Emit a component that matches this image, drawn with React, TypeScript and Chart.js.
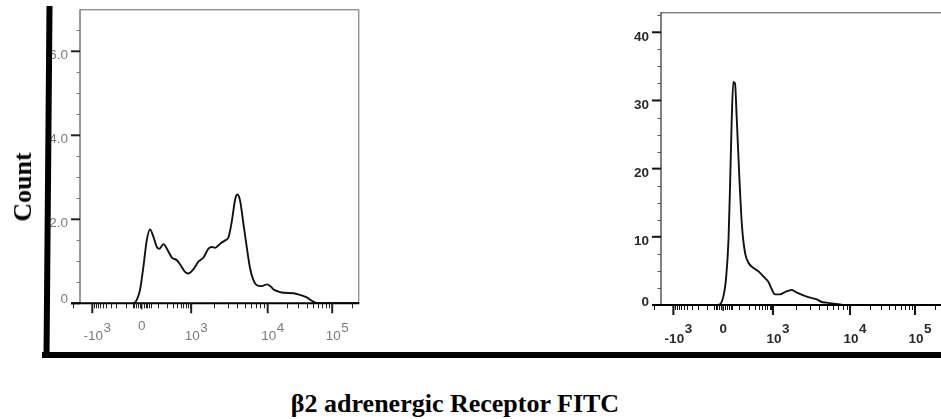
import React, { useEffect, useRef } from "react";
import { Chart, registerables } from "chart.js";

Chart.register(...registerables);

// ---------------- data (x in display channel units 0..1000, y = count) ----------------
const leftChannel = [190, 197, 203, 215, 227, 239, 251, 263, 275, 284, 299, 311, 329, 346, 358, 376, 388, 406, 424, 442, 460, 472, 484, 502, 520, 532, 544, 556, 564, 573, 585, 597, 609, 621, 633, 651, 669, 681, 693, 711, 729, 765, 788, 812, 830, 848, 1000];
const leftCount = [0, 0.02, 0.08, 0.32, 0.87, 1.5, 1.76, 1.58, 1.34, 1.3, 1.41, 1.3, 1.09, 1.03, 0.93, 0.75, 0.71, 0.81, 0.99, 1.09, 1.3, 1.34, 1.32, 1.42, 1.5, 1.58, 1.97, 2.49, 2.59, 2.45, 1.9, 1.34, 0.83, 0.55, 0.43, 0.41, 0.45, 0.41, 0.33, 0.28, 0.25, 0.24, 0.2, 0.14, 0.06, 0, 0];

const rightChannel = [200, 210, 222, 231, 240, 246, 251, 257, 263, 269, 279, 288, 299, 311, 328, 346, 364, 382, 394, 405, 423, 441, 465, 483, 506, 530, 554, 571, 589, 613, 636, 648, 1000];
const rightCount = [0, 0.1, 1.3, 3.75, 9.6, 18.3, 26.6, 32.7, 32.5, 27.6, 18.3, 11.5, 7.6, 6.2, 5.45, 4.96, 4.2, 3.36, 2.3, 1.56, 1.56, 1.9, 2.2, 1.8, 1.4, 1.07, 0.83, 0.44, 0.34, 0.19, 0.1, 0, 0];

// x axis ticks (fluorescence values)
const xTickValues = [-1000, 0, 1000, 10000, 100000];
const xTickBases = ["-10", "0", "10", "10", "10"];
const xTickExponents = ["3", "", "3", "4", "5"];
const xMinorValues = [
  -2000, -900, -800, -700, -600, -500, -400, -300, -200, -100,
  -50, -40, -30, -20, -10, 10, 20, 30, 40, 50,
  100, 200, 300, 400, 500, 600, 700, 800, 900,
  2000, 3000, 4000, 5000, 6000, 7000, 8000, 9000,
  20000, 30000, 40000, 50000, 60000, 70000, 80000, 90000, 200000,
];

// y axis ticks
const leftYMajor = [0, 2, 4, 6];
const leftYLabels = ["0", "2.0", "4.0", "6.0"];
const leftYMinor = [0.5, 1, 1.5, 2.5, 3, 3.5, 4.5, 5, 5.5, 6.5];
const rightYMajor = [0, 10, 20, 30, 40];
const rightYLabels = ["0", "10", "20", "30", "40"];
const rightYMinor = [2.5, 5, 7.5, 12.5, 15, 17.5, 22.5, 25, 27.5, 32.5, 35, 37.5, 42.5];

const yAxisTitle = "Count";
const xAxisTitle = "β2 adrenergic Receptor FITC";

// biexponential-like display transform: value -> channel
function toChannel(v: number): number {
  const a = Math.abs(v);
  if (a <= 1000) return 221 + Math.sign(v) * 177 * Math.asinh(a / 80) / Math.asinh(1000 / 80);
  if (v > 0) return v <= 10000 ? 398 + 274 * Math.log10(v / 1000) : 672 + 231 * Math.log10(v / 10000);
  return 44 - 231 * Math.log10(a / 1000);
}

type PanelProps = {
  cLeft: number; cTop: number; cWidth: number; cHeight: number;
  pad: { left: number; top: number; right: number; bottom: number };
  channels: number[]; counts: number[];
  yMax: number; yMajor: number[]; yLabels: string[]; yMinor: number[];
  bold: boolean; labelColor: string; majorColor: string; minorColor: string; frameColor: string;
  yLabOff: number; yZeroOff: number;
  xBaseOff: number; xExpOff: number; xZeroOff: number;
};

function Panel(p: PanelProps) {
  const ref = useRef<HTMLCanvasElement | null>(null);
  useEffect(() => {
    if (!ref.current) return;
    const axesPlugin = {
      id: "flowAxes",
      afterDraw(chart: any) {
        const { ctx, chartArea: ca } = chart;
        const xs = chart.scales.x;
        const ys = chart.scales.y;
        ctx.save();
        // frame (top, right)
        ctx.strokeStyle = p.frameColor;
        ctx.lineWidth = 1;
        ctx.beginPath();
        ctx.moveTo(ca.left, ca.top + 0.5);
        ctx.lineTo(ca.right - 0.5, ca.top + 0.5);
        ctx.lineTo(ca.right - 0.5, ca.bottom);
        ctx.stroke();
        // y axis line
        ctx.strokeStyle = p.minorColor;
        ctx.lineWidth = 1.5;
        ctx.beginPath();
        ctx.moveTo(ca.left, ca.top);
        ctx.lineTo(ca.left, ca.bottom);
        ctx.stroke();
        // y minor ticks
        ctx.lineWidth = 1;
        ctx.strokeStyle = p.minorColor;
        for (const v of p.yMinor) {
          const py = Math.round(ys.getPixelForValue(v)) + 0.5;
          ctx.beginPath();
          ctx.moveTo(ca.left - 3.5, py);
          ctx.lineTo(ca.left, py);
          ctx.stroke();
        }
        // y major ticks + labels
        const font = `${p.bold ? "bold " : ""}13.5px "Liberation Sans", Arial, sans-serif`;
        ctx.font = font;
        ctx.fillStyle = p.labelColor;
        ctx.textAlign = "right";
        ctx.textBaseline = "alphabetic";
        p.yMajor.forEach((v, i) => {
          const py = ys.getPixelForValue(v);
          ctx.strokeStyle = p.majorColor;
          ctx.lineWidth = 2;
          ctx.beginPath();
          ctx.moveTo(ca.left - 9, py);
          ctx.lineTo(ca.left, py);
          ctx.stroke();
          const off = v === 0 ? p.yZeroOff : p.yLabOff;
          ctx.fillText(p.yLabels[i], ca.left - 12, py + off + 4.8);
        });
        // x axis line
        const x0 = xs.getPixelForValue(-32);
        ctx.strokeStyle = "#000";
        ctx.lineWidth = 2;
        ctx.beginPath();
        ctx.moveTo(x0, ca.bottom);
        ctx.lineTo(ca.right, ca.bottom);
        ctx.stroke();
        // x minor ticks
        ctx.lineWidth = 1;
        ctx.strokeStyle = p.majorColor;
        for (const v of xMinorValues) {
          const px = Math.round(xs.getPixelForValue(toChannel(v))) + 0.5;
          if (px > ca.right) continue;
          ctx.beginPath();
          ctx.moveTo(px, ca.bottom);
          ctx.lineTo(px, ca.bottom + 5);
          ctx.stroke();
        }
        // x major ticks + labels
        xTickValues.forEach((v, i) => {
          const px = xs.getPixelForValue(toChannel(v));
          ctx.strokeStyle = p.majorColor;
          ctx.lineWidth = v === 0 ? 1.5 : 2;
          ctx.beginPath();
          ctx.moveTo(px, ca.bottom);
          ctx.lineTo(px, ca.bottom + (v === 0 ? 6 : 10));
          ctx.stroke();
          const base = xTickBases[i];
          const exp = xTickExponents[i];
          ctx.fillStyle = p.labelColor;
          if (!exp) {
            ctx.textAlign = "center";
            ctx.fillText(base, px, ca.bottom + p.xZeroOff + 4.8);
          } else {
            const cx = px + 1;
            ctx.textAlign = "center";
            ctx.fillText(base, cx, ca.bottom + p.xBaseOff + 4.8);
            const w = ctx.measureText(base).width;
            ctx.textAlign = "left";
            ctx.fillText(exp, cx + w / 2 + 0.5, ca.bottom + p.xExpOff + 4.8);
          }
        });
        ctx.restore();
      },
    };

    const chart = new Chart(ref.current, {
      type: "line",
      data: {
        datasets: [
          {
            data: p.channels.map((c, i) => ({ x: c, y: p.counts[i] })),
            borderColor: "#111",
            borderWidth: 1.9,
            pointRadius: 0,
            fill: false,
            cubicInterpolationMode: "monotone",
          },
        ],
      },
      options: {
        responsive: false,
        animation: false,
        devicePixelRatio: 1,
        layout: { padding: p.pad },
        plugins: { legend: { display: false }, tooltip: { enabled: false } },
        events: [],
        scales: {
          x: { type: "linear", min: 0, max: 1000, display: false },
          y: { type: "linear", min: 0, max: p.yMax, display: false },
        },
      },
      plugins: [axesPlugin],
    } as any);
    return () => chart.destroy();
  }, []);
  return (
    <canvas
      ref={ref}
      width={p.cWidth}
      height={p.cHeight}
      style={{ position: "absolute", left: p.cLeft, top: p.cTop, width: p.cWidth, height: p.cHeight }}
    />
  );
}

export default function App() {
  return (
    <div style={{ position: "fixed", left: 0, top: 0, width: 941, height: 419, overflow: "hidden", background: "#fff" }}>
      <Panel
        cLeft={0} cTop={0} cWidth={380} cHeight={352}
        pad={{ left: 80, top: 9.3, right: 20.7, bottom: 48.7 }}
        channels={leftChannel} counts={leftCount}
        yMax={7} yMajor={leftYMajor} yLabels={leftYLabels} yMinor={leftYMinor}
        bold={false} labelColor="#7a7a7a" majorColor="#222" minorColor="#777" frameColor="#666"
        yLabOff={3} yZeroOff={-5}
        xBaseOff={31.7} xExpOff={23.7} xZeroOff={21.7}
      />
      <Panel
        cLeft={600} cTop={0} cWidth={350} cHeight={352}
        pad={{ left: 61, top: 12.3, right: 7.7, bottom: 47 }}
        channels={rightChannel} counts={rightCount}
        yMax={42.93} yMajor={rightYMajor} yLabels={rightYLabels} yMinor={rightYMinor}
        bold={true} labelColor="#2a2a2a" majorColor="#111" minorColor="#555" frameColor="#444"
        yLabOff={3.5} yZeroOff={-3.5}
        xBaseOff={33} xExpOff={23} xZeroOff={23}
      />
      {/* thick outer frame */}
      <div style={{ position: "absolute", left: 44.5, top: 6, width: 6, height: 352, background: "#000", transform: "rotate(0.49deg)" }} />
      <div style={{ position: "absolute", left: 42, top: 352, width: 920, height: 6, background: "#000" }} />
      <div
        style={{
          position: "absolute", left: 23, top: 187, transform: "translate(-50%, -50%) rotate(-90deg)",
          font: 'bold 26px "Liberation Serif", "Times New Roman", serif', lineHeight: "26px", whiteSpace: "nowrap", color: "#000",
        }}
      >
        {yAxisTitle}
      </div>
      <div
        style={{
          position: "absolute", left: 455, top: 391, transform: "translateX(-50%)",
          font: 'bold 26px "Liberation Serif", "Times New Roman", serif', lineHeight: "26px", whiteSpace: "nowrap", color: "#000",
        }}
      >
        {xAxisTitle}
      </div>
    </div>
  );
}
